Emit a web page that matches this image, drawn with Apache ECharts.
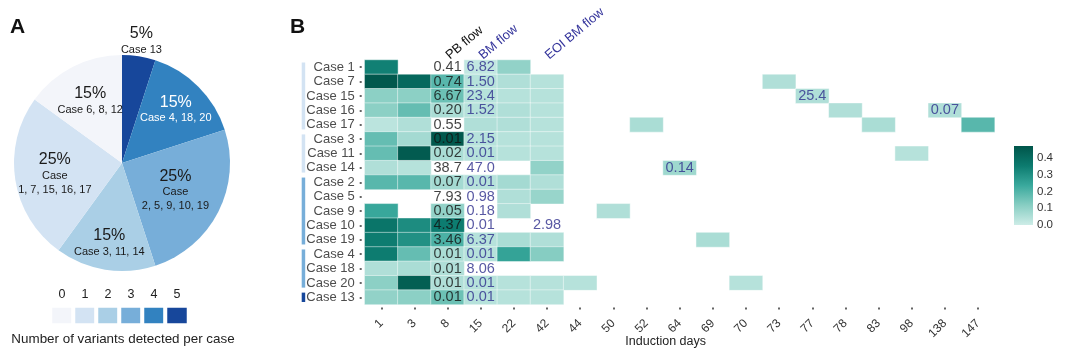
<!DOCTYPE html>
<html>
<head>
<meta charset="utf-8">
<script src="https://cdn.jsdelivr.net/npm/echarts@6/dist/echarts.min.js"></script>
<style>
  html, body { margin: 0; padding: 0; background: #fff; }
  #chart { width: 1073px; height: 348px; }
</style>
</head>
<body>
<div id="chart"></div>
<script>
// ---- Panel A: variants per case ----
const variantLevels = ['0', '1', '2', '3', '4', '5'];
const pieLevels = [5, 4, 3, 2, 1, 0];
const pieCounts = [1, 3, 5, 3, 5, 3];
const pieCases = ['Case 13', 'Case 4, 18, 20', 'Case\n2, 5, 9, 10, 19', 'Case 3, 11, 14', 'Case\n1, 7, 15, 16, 17', 'Case 6, 8, 12'];

// ---- Panel B: heatmap ----
const days = ['1', '3', '8', '15', '22', '42', '44', '50', '52', '64', '69', '70', '73', '77', '78', '83', '98', '138', '147'];
const cases = ['Case 1', 'Case 7', 'Case 15', 'Case 16', 'Case 17', 'Case 3', 'Case 11', 'Case 14', 'Case 2', 'Case 5', 'Case 9', 'Case 10', 'Case 19', 'Case 4', 'Case 18', 'Case 20', 'Case 13'];
const headerLabels = { '8': 'PB flow', '15': 'BM flow', '42': 'EOI BM flow' };

// [case, day, VAF]
const vafCells = [
  ['Case 1', '1', 0.34], ['Case 1', '15', 0.02], ['Case 1', '22', 0.10],
  ['Case 7', '1', 0.46], ['Case 7', '3', 0.41], ['Case 7', '8', 0.19], ['Case 7', '15', 0.04], ['Case 7', '22', 0.05], ['Case 7', '42', 0.04], ['Case 7', '73', 0.05],
  ['Case 15', '1', 0.11], ['Case 15', '3', 0.11], ['Case 15', '8', 0.16], ['Case 15', '15', 0.04], ['Case 15', '22', 0.04], ['Case 15', '42', 0.04], ['Case 15', '77', 0.05],
  ['Case 16', '1', 0.11], ['Case 16', '3', 0.17], ['Case 16', '8', 0.06], ['Case 16', '15', 0.04], ['Case 16', '22', 0.05], ['Case 16', '42', 0.04], ['Case 16', '78', 0.05], ['Case 16', '138', 0.05],
  ['Case 17', '1', 0.03], ['Case 17', '3', 0.05], ['Case 17', '15', 0.05], ['Case 17', '22', 0.05], ['Case 17', '42', 0.04], ['Case 17', '52', 0.06], ['Case 17', '83', 0.06], ['Case 17', '147', 0.19],
  ['Case 3', '1', 0.17], ['Case 3', '3', 0.07], ['Case 3', '8', 0.46], ['Case 3', '15', 0.04], ['Case 3', '22', 0.04], ['Case 3', '42', 0.04],
  ['Case 11', '1', 0.17], ['Case 11', '3', 0.45], ['Case 11', '8', 0.06], ['Case 11', '15', 0.04], ['Case 11', '22', 0.04], ['Case 11', '42', 0.04], ['Case 11', '98', 0.04],
  ['Case 14', '1', 0.05], ['Case 14', '3', 0.04], ['Case 14', '42', 0.10], ['Case 14', '64', 0.08],
  ['Case 2', '1', 0.19], ['Case 2', '3', 0.19], ['Case 2', '8', 0.07], ['Case 2', '15', 0.04], ['Case 2', '22', 0.07], ['Case 2', '42', 0.05],
  ['Case 5', '22', 0.05], ['Case 5', '42', 0.09],
  ['Case 9', '1', 0.24], ['Case 9', '8', 0.10], ['Case 9', '22', 0.05], ['Case 9', '50', 0.05],
  ['Case 10', '1', 0.37], ['Case 10', '3', 0.31], ['Case 10', '8', 0.35],
  ['Case 19', '1', 0.35], ['Case 19', '3', 0.30], ['Case 19', '8', 0.21], ['Case 19', '15', 0.04], ['Case 19', '22', 0.06], ['Case 19', '42', 0.05], ['Case 19', '69', 0.06],
  ['Case 4', '1', 0.35], ['Case 4', '3', 0.17], ['Case 4', '8', 0.06], ['Case 4', '15', 0.04], ['Case 4', '22', 0.25], ['Case 4', '42', 0.12],
  ['Case 18', '1', 0.05], ['Case 18', '3', 0.06], ['Case 18', '8', 0.05],
  ['Case 20', '1', 0.11], ['Case 20', '3', 0.44], ['Case 20', '8', 0.05], ['Case 20', '15', 0.04], ['Case 20', '22', 0.04], ['Case 20', '42', 0.04], ['Case 20', '44', 0.04], ['Case 20', '70', 0.04],
  ['Case 13', '1', 0.10], ['Case 13', '3', 0.11], ['Case 13', '8', 0.16], ['Case 13', '15', 0.04], ['Case 13', '22', 0.04], ['Case 13', '42', 0.04]
];

// flow cytometry values, one per case (in case order)
const pbFlow = ['0.41', '0.74', '6.67', '0.20', '0.55', '0.01', '0.02', '38.7', '0.07', '7.93', '0.05', '4.37', '3.46', '0.01', '0.01', '0.01', '0.01'];
const bmFlow = ['6.82', '1.50', '23.4', '1.52', null, '2.15', '0.01', '47.0', '0.01', '0.98', '0.18', '0.01', '6.37', '0.01', '8.06', '0.01', '0.01'];
// [case, day, value]
const laterBmFlow = [['Case 10', '42', '2.98'], ['Case 15', '77', '25.4'], ['Case 16', '138', '0.07'], ['Case 14', '64', '0.14']];

// left-side group bars: [first row, last row, variant level]
const caseGroups = [[0, 4, 1], [5, 7, 1], [8, 12, 3], [13, 15, 3], [16, 16, 5]];

const vafMax = 0.47;
const colorbarTicks = ['0.0', '0.1', '0.2', '0.3', '0.4'];

// ---- styling ----
const FONT = '"Liberation Sans", Arial, Helvetica, sans-serif';
const blues = ['#f3f5fa', '#d3e3f3', '#aacfe6', '#77aed9', '#3282c0', '#17479b'];
const teal = ['#cdece7', '#88cec3', '#3aa99d', '#0c7b6f', '#00554a'];
const flowBlue = '#2e2e8c';

const pieCenter = [122, 163];
const pieRadius = 108;
const pieLabelRadius = [124, 76, 60, 81, 68, 70];
const pieTotal = pieCounts.reduce((a, b) => a + b, 0);
let acc = 0;
const pieMid = pieCounts.map(v => { const m = (acc + v / 2) / pieTotal * 2 * Math.PI; acc += v; return m; });

const heatData = vafCells.map(c => [days.indexOf(c[1]), cases.indexOf(c[0]), c[2]]);

const labelData = [];
pbFlow.forEach((t, i) => { if (t !== null) labelData.push({ value: [2, i], text: t, color: '#111' }); });
bmFlow.forEach((t, i) => { if (t !== null) labelData.push({ value: [3, i], text: t, color: flowBlue }); });
laterBmFlow.forEach(r => labelData.push({ value: [days.indexOf(r[1]), cases.indexOf(r[0])], text: r[2], color: flowBlue }));

const chart = echarts.init(document.getElementById('chart'), null, { renderer: 'canvas' });

const option = {
  backgroundColor: '#fff',
  animation: false,
  textStyle: { fontFamily: FONT },
  title: [
    { text: 'A', left: 5, top: 12, textStyle: { fontSize: 21, fontWeight: 'bold', color: '#111', fontFamily: FONT } },
    { text: 'B', left: 285, top: 12, textStyle: { fontSize: 21, fontWeight: 'bold', color: '#111', fontFamily: FONT } },
    { text: 'Number of variants detected per case', left: 123, top: 333, textAlign: 'center', padding: 0,
      textStyle: { fontSize: 13.4, fontWeight: 'normal', color: '#222', fontFamily: FONT } }
  ],
  visualMap: {
    show: false, type: 'continuous', seriesIndex: 0, dimension: 2,
    min: 0, max: vafMax, inRange: { color: teal }
  },
  grid: [
    { left: 364.7, top: 60, width: 629.9, height: 244.5, outerBoundsMode: 'none', containLabel: false },
    { left: 50.5, top: 306, width: 138, height: 19, outerBoundsMode: 'none', containLabel: false },
    { left: 1014, top: 146, width: 19, height: 79, outerBoundsMode: 'none', containLabel: false }
  ],
  xAxis: [
    { gridIndex: 0, type: 'category', data: days, position: 'bottom', offset: 3,
      axisLine: { show: false },
      axisTick: { show: true, alignWithLabel: true, length: 2, lineStyle: { color: '#333', width: 1.5 } },
      axisLabel: { interval: 0, rotate: 45, margin: 14, fontSize: 12, color: '#333', fontFamily: FONT },
      splitLine: { show: false },
      name: 'Induction days', nameLocation: 'middle', nameGap: 28, nameMoveOverlap: false,
      nameTextStyle: { fontSize: 12.5, color: '#222', fontFamily: FONT, padding: [0, 28, 0, 0], verticalAlign: 'top' } },
    { gridIndex: 0, type: 'category', data: days, position: 'top',
      axisLine: { show: false }, axisTick: { show: false }, splitLine: { show: false },
      axisLabel: { interval: 0, rotate: -40, margin: 3, fontSize: 13, fontFamily: FONT,
        formatter: v => headerLabels[v] ? (v === '8' ? '{pb|' + headerLabels[v] + '}' : '{bm|' + headerLabels[v] + '}') : '',
        rich: { pb: { color: '#111', fontSize: 13, fontFamily: FONT }, bm: { color: '#35359c', fontSize: 13, fontFamily: FONT } } } },
    { gridIndex: 1, type: 'category', data: variantLevels, position: 'top',
      axisLine: { show: false }, axisTick: { show: false }, splitLine: { show: false },
      axisLabel: { interval: 0, margin: 5, fontSize: 12.5, color: '#222', fontFamily: FONT } },
    { gridIndex: 2, type: 'category', data: ['v'], show: false }
  ],
  yAxis: [
    { gridIndex: 0, type: 'category', data: cases, inverse: true, offset: 3,
      axisLine: { show: false },
      axisTick: { show: true, alignWithLabel: true, length: 2, lineStyle: { color: '#333', width: 1.5 } },
      axisLabel: { interval: 0, margin: 7, fontSize: 13, color: '#4d4d4d', fontFamily: FONT },
      splitLine: { show: false } },
    { gridIndex: 1, type: 'category', data: ['n'], show: false },
    { gridIndex: 2, type: 'value', min: 0, max: vafMax, interval: 0.1, position: 'right',
      axisLine: { show: false }, splitLine: { show: false },
      axisTick: { show: true, inside: true, length: 4, lineStyle: { color: '#ffffff', width: 1 } },
      axisLabel: { showMaxLabel: false, margin: 4, fontSize: 11.5, color: '#333', fontFamily: FONT,
        formatter: v => colorbarTicks[Math.round(v * 10)] || '' } },
    { gridIndex: 2, type: 'value', min: 0, max: vafMax, interval: 0.1, position: 'left',
      axisLine: { show: false }, splitLine: { show: false }, axisLabel: { show: false },
      axisTick: { show: true, inside: true, length: 4, lineStyle: { color: '#ffffff', width: 1 } } }
  ],
  series: [
    {
      name: 'VAF', type: 'heatmap', xAxisIndex: 0, yAxisIndex: 0,
      data: heatData,
      itemStyle: { borderColor: 'rgba(255,255,255,0.45)', borderWidth: 1 },
      emphasis: { disabled: true }
    },
    {
      name: 'variant level', type: 'heatmap', xAxisIndex: 2, yAxisIndex: 1,
      data: variantLevels.map((v, i) => ({ value: [i, 0, i], itemStyle: { color: blues[i] } })),
      itemStyle: { borderColor: '#fff', borderWidth: 4 },
      emphasis: { disabled: true }
    },
    {
      name: 'flow', type: 'scatter', xAxisIndex: 0, yAxisIndex: 0, z: 5,
      symbol: 'rect', symbolSize: 1, itemStyle: { color: 'rgba(0,0,0,0)' },
      silent: true,
      data: labelData.map(d => ({ value: d.value, label: { formatter: d.text, color: d.color } })),
      label: { show: true, position: 'inside', fontSize: 14.5, fontFamily: FONT }
    },
    {
      name: 'groups', type: 'custom', xAxisIndex: 0, yAxisIndex: 0, silent: true,
      data: caseGroups,
      encode: { y: [0, 1] },
      renderItem: function (params, api) {
        const yA = api.coord([0, api.value(0)])[1];
        const yB = api.coord([0, api.value(1)])[1];
        const h = api.size([0, 1])[1];
        return {
          type: 'rect',
          shape: { x: params.coordSys.x - 63, y: yA - h / 2 + 2.5, width: 3.5, height: yB - yA + h - 5 },
          style: { fill: blues[api.value(2)] }
        };
      }
    },
    {
      name: 'colorbar', type: 'bar', xAxisIndex: 3, yAxisIndex: 2, barWidth: '100%', silent: true,
      data: [vafMax],
      itemStyle: { color: new echarts.graphic.LinearGradient(0, 1, 0, 0,
        teal.map((c, i) => ({ offset: i / (teal.length - 1), color: c }))) }
    },
    {
      name: 'variants', type: 'pie', center: pieCenter, radius: [0, pieRadius],
      startAngle: 90, clockwise: true, silent: true,
      data: pieCounts.map((v, i) => ({
        value: v, name: pieCases[i],
        itemStyle: { color: blues[pieLevels[i]] },
        label: { color: pieLevels[i] === 4 ? '#ffffff' : '#1a1a1a' }
      })),
      label: {
        show: true, position: 'inside',
        formatter: p => '{p|' + Math.round(p.value / pieTotal * 100) + '%}\n{c|' + p.name.split('\n').join('}\n{c|') + '}',
        rich: {
          p: { fontSize: 16, lineHeight: 18, fontFamily: FONT },
          c: { fontSize: 11, lineHeight: 14, fontFamily: FONT }
        }
      },
      labelLine: { show: false },
      labelLayout: function (params) {
        const i = params.dataIndex;
        const d = pieLabelRadius[i];
        return {
          x: pieCenter[0] + d * Math.sin(pieMid[i]),
          y: pieCenter[1] - d * Math.cos(pieMid[i]),
          align: 'center', verticalAlign: 'middle'
        };
      }
    }
  ]
};

chart.setOption(option);
</script>
</body>
</html>
